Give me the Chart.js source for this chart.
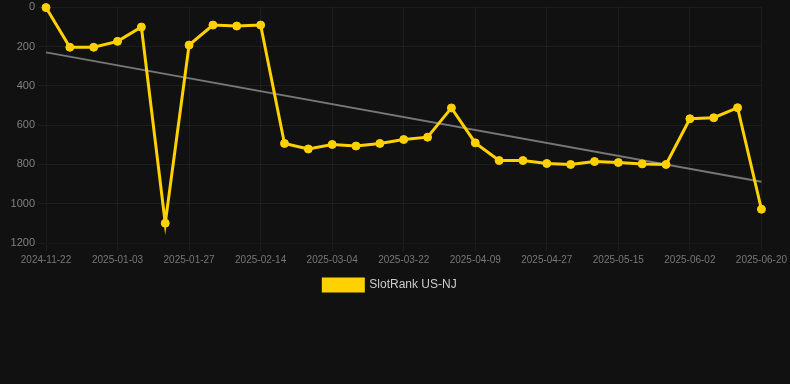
<!DOCTYPE html>
<html>
<head>
<meta charset="utf-8">
<script src="https://cdn.jsdelivr.net/npm/chart.js@4"></script>
<style>
  html, body { margin: 0; padding: 0; background: #111111; }
  #wrap { width: 790px; height: 301px; }
</style>
</head>
<body>
<div id="wrap"><canvas id="my-chart"></canvas></div>
<script>
const dates = [
  '2024-11-22', '2024-12-06', '2024-12-20', '2025-01-03', '2025-01-11', '2025-01-19',
  '2025-01-27', '2025-02-02', '2025-02-08', '2025-02-14', '2025-02-20', '2025-02-26',
  '2025-03-04', '2025-03-10', '2025-03-16', '2025-03-22', '2025-03-28', '2025-04-03',
  '2025-04-09', '2025-04-15', '2025-04-21', '2025-04-27', '2025-05-03', '2025-05-09',
  '2025-05-15', '2025-05-21', '2025-05-27', '2025-06-02', '2025-06-08', '2025-06-14',
  '2025-06-20'
];

const ranks = [
  1, 203, 203, 173, 100, 1099,
  192, 90, 95, 90, 693, 721,
  698, 706, 693, 673, 661, 512,
  690, 780, 780, 795, 800, 785,
  790, 797, 800, 567, 562, 511,
  1028
];

// trend line ends
const trendDates = ['2024-11-22', '2025-06-20'];
const trendValues = [229, 888];

const yTicks = [0, 200, 400, 600, 800, 1000, 1200];

const ctx = document.getElementById('my-chart').getContext('2d');
const chart = new Chart(ctx, {
  type: 'line',
  data: {
    labels: dates,
    datasets: [
      {
        label: 'SlotRank US-NJ',
        data: ranks,
        borderColor: '#FFD100',
        backgroundColor: '#FFD100',
        borderWidth: 3,
        pointRadius: 4,
        pointBorderWidth: 1,
        pointHoverRadius: 5,
        tension: 0,
        clip: false
      },
      {
        label: 'trend',
        data: trendDates.map((d, i) => ({ x: d, y: trendValues[i] })),
        borderColor: '#777777',
        backgroundColor: '#777777',
        borderWidth: 2,
        pointRadius: 0,
        tension: 0
      }
    ]
  },
  options: {
    responsive: true,
    maintainAspectRatio: false,
    animation: false,
    layout: { padding: { right: 10 } },
    plugins: {
      legend: {
        position: 'bottom',
        labels: {
          color: '#cccccc',
          font: { size: 12 },
          filter: item => item.datasetIndex === 0
        }
      },
      tooltip: { enabled: false }
    },
    scales: {
      x: {
        grid: { color: 'rgba(255,255,255,0.05)' },
        ticks: {
          color: '#777777',
          font: { size: 10 },
          maxRotation: 0,
          autoSkip: true,
          maxTicksLimit: 11
        }
      },
      y: {
        reverse: true,
        min: 0,
        max: 1200,
        afterBuildTicks: axis => { axis.ticks = yTicks.map(v => ({ value: v })); },
        afterFit: axis => { axis.width = 46; },
        grid: { color: 'rgba(255,255,255,0.05)' },
        ticks: {
          color: '#808080',
          font: { size: 11, lineHeight: 0.8 },
          callback: v => String(v)
        }
      }
    }
  }
});
</script>
</body>
</html>
